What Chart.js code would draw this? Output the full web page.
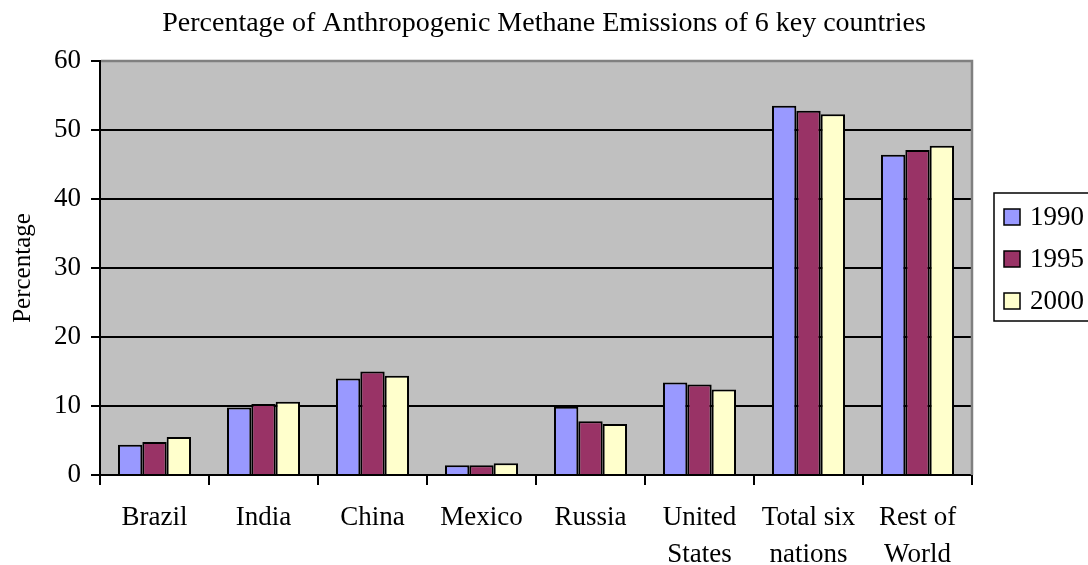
<!DOCTYPE html>
<html>
<head>
<meta charset="utf-8">
<script src="https://cdn.jsdelivr.net/npm/chart.js@4/dist/chart.umd.min.js"></script>
<style>
  html, body { margin: 0; padding: 0; background: #ffffff; }
  #wrap { width: 1088px; height: 565px; position: relative; }
</style>
</head>
<body>
<div id="wrap"><canvas id="chart" width="1088" height="565"></canvas></div>
<script>
// Share of anthropogenic methane emissions (%), by country and year
const categories = ['Brazil', 'India', 'China', 'Mexico', 'Russia',
  ['United', 'States'], ['Total six', 'nations'], ['Rest of', 'World']];
const seriesNames = ['1990', '1995', '2000'];
const values1990 = [4.4, 9.8, 14.0, 1.4, 9.9, 13.4, 53.5, 46.4];
const values1995 = [4.8, 10.3, 15.0, 1.4, 7.8, 13.1, 52.8, 47.1];
const values2000 = [5.5, 10.6, 14.4, 1.7, 7.4, 12.4, 52.3, 47.7];
const yTicks = [0, 10, 20, 30, 40, 50, 60];

const FONT = '"Liberation Serif", "Times New Roman", serif';
const fills = ['#9999FF', '#993366', '#FFFFCC'];

// Grey plot background and the grey top/right frame of the plot area
const plotFrame = {
  id: 'plotFrame',
  beforeDraw(chart) {
    const { ctx, chartArea: a } = chart;
    ctx.save();
    ctx.fillStyle = '#C0C0C0';
    ctx.fillRect(a.left, a.top, a.right - a.left, a.bottom - a.top);
    ctx.restore();
  },
  beforeDatasetsDraw(chart) {
    const { ctx, chartArea: a } = chart;
    ctx.save();
    ctx.strokeStyle = '#808080';
    ctx.lineWidth = 2.5;
    ctx.beginPath();
    ctx.moveTo(a.left + 1, a.top);
    ctx.lineTo(a.right, a.top);
    ctx.lineTo(a.right, a.bottom);
    ctx.stroke();
    ctx.restore();
  }
};

// Boxed legend at the right, built from the dataset labels and colours
const boxLegend = {
  id: 'boxLegend',
  afterDraw(chart, args, opts) {
    const { ctx } = chart;
    const ds = chart.data.datasets;
    ctx.save();
    ctx.fillStyle = '#ffffff';
    ctx.strokeStyle = '#000000';
    ctx.lineWidth = 1.5;
    ctx.fillRect(opts.left, opts.top, opts.width, opts.height);
    ctx.strokeRect(opts.left, opts.top, opts.width, opts.height);
    ctx.font = opts.fontSize + 'px ' + FONT;
    ctx.textBaseline = 'middle';
    ctx.textAlign = 'left';
    ds.forEach((d, i) => {
      const cy = opts.top + opts.firstRow + i * opts.rowGap;
      const s = opts.swatch;
      ctx.fillStyle = d.backgroundColor;
      ctx.fillRect(opts.left + opts.swatchX, cy - s / 2, s, s);
      ctx.lineWidth = 1.5;
      ctx.strokeRect(opts.left + opts.swatchX, cy - s / 2, s, s);
      ctx.fillStyle = '#000000';
      ctx.fillText(d.label, opts.left + opts.textX, cy + 1);
    });
    ctx.restore();
  }
};

const datasets = [values1990, values1995, values2000].map((vals, i) => ({
  label: seriesNames[i],
  data: vals,
  backgroundColor: fills[i],
  borderColor: '#000000',
  borderWidth: 2,
  barPercentage: 1.0,
  categoryPercentage: 0.67,
  xAxisID: 'x',
  yAxisID: 'y'
}));

Chart.defaults.color = '#000000';
Chart.defaults.font.family = FONT;

new Chart(document.getElementById('chart'), {
  type: 'bar',
  data: { labels: categories, datasets },
  plugins: [plotFrame, boxLegend],
  options: {
    responsive: false,
    animation: false,
    layout: { padding: 0 },
    plugins: {
      legend: { display: false },
      tooltip: { enabled: false },
      title: {
        display: true,
        text: 'Percentage of Anthropogenic Methane Emissions of 6 key countries',
        color: '#000000',
        font: { family: FONT, size: 28, weight: 'normal', lineHeight: 1.2 },
        padding: { top: 7, bottom: 20.4 }
      },
      boxLegend: {
        left: 994, top: 193, width: 100, height: 128,
        firstRow: 24, rowGap: 42, swatch: 16, swatchX: 10, textX: 36,
        fontSize: 27
      }
    },
    scales: {
      x: {
        grid: {
          offset: true,
          drawOnChartArea: false,
          drawTicks: true,
          tickLength: 10,
          tickColor: '#000000',
          lineWidth: 2
        },
        border: { display: true, color: '#000000', width: 2 },
        ticks: {
          font: { family: FONT, size: 27, lineHeight: 1.36 },
          color: '#000000',
          padding: 15,
          maxRotation: 0,
          autoSkip: false
        },
        afterFit(scale) { scale.height = 90; }
      },
      y: {
        position: 'left',
        min: 0,
        max: 60,
        afterBuildTicks(scale) { scale.ticks = yTicks.map(v => ({ value: v })); },
        grid: {
          color: ctx => (ctx.tick && ctx.tick.value === 60) ? '#808080' : '#000000',
          tickColor: '#000000',
          lineWidth: 2,
          tickLength: 9
        },
        border: { display: true, color: '#000000', width: 2 },
        ticks: {
          font: { family: FONT, size: 27 },
          color: '#000000',
          padding: 10
        },
        title: {
          display: true,
          text: 'Percentage',
          color: '#000000',
          font: { family: FONT, size: 25 },
          padding: { top: 8, bottom: 0 }
        },
        afterFit(scale) { scale.width = 100; }
      },
      // empty strip on the right that leaves room for the legend box
      legendSpace: {
        type: 'linear',
        position: 'right',
        display: true,
        grid: { display: false, drawTicks: false },
        border: { display: false },
        ticks: { display: false },
        afterFit(scale) { scale.width = 116; }
      }
    }
  }
});
</script>
</body>
</html>
